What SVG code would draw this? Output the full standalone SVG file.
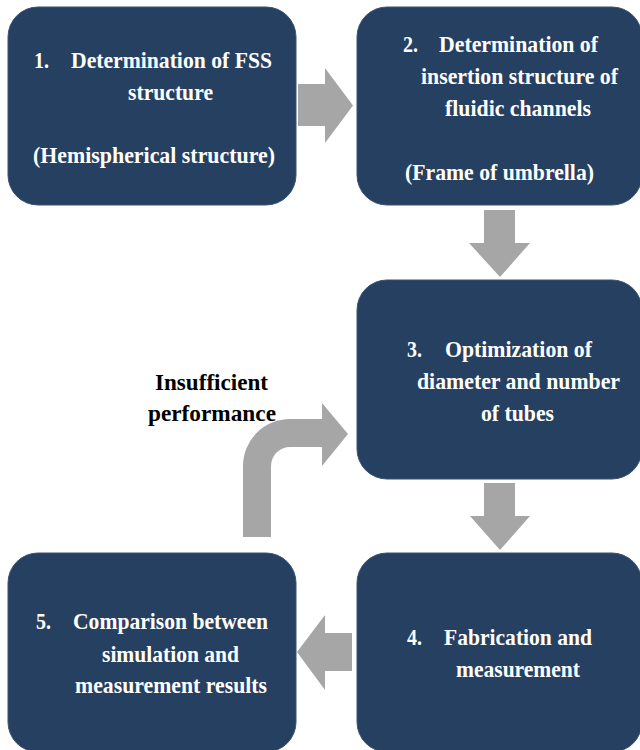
<svg xmlns="http://www.w3.org/2000/svg" width="640" height="750" viewBox="0 0 640 750">
<style>
.box{fill:#264062;stroke:#3a5272;stroke-width:1}
.arr{fill:#A6A6A6}
.t{font-family:"Liberation Serif","Times New Roman",serif;font-weight:bold;font-size:24px;fill:#ffffff}
.lbl{font-family:"Liberation Serif","Times New Roman",serif;font-weight:bold;font-size:24px;fill:#000000}
</style>
<rect width="640" height="750" fill="#ffffff"/>
<g id="connectors">
<polygon class="arr" points="298,84 325,84 325,68 353,105.5 325,143 325,126 298,126"/>
<polygon class="arr" points="484,210 515,210 515,243 530,243 500,277 469,243 484,243"/>
<polygon class="arr" points="484,483 515,483 515,516 530,516 500,550 470,516 484,516"/>
<polygon class="arr" points="352,633 325,633 325,615 297,652 325,690 325,671 352,671"/>
<path class="arr" d="M243,537 L243,466 A47,47 0 0 1 290,419 L322,419 L322,403 L348,434 L322,466 L322,447 L290,447 A19,19 0 0 0 271,466 L271,537 Z"/>
</g>
<g id="node1">
<rect class="box" x="8" y="7" width="288" height="198" rx="30"/>
<text class="t" x="34" y="68" textLength="15" lengthAdjust="spacingAndGlyphs">1.</text>
<text class="t" x="71" y="68" textLength="201" lengthAdjust="spacingAndGlyphs">Determination of FSS</text>
<text class="t" x="128" y="100" textLength="85" lengthAdjust="spacingAndGlyphs">structure</text>
<text class="t" x="33" y="163" textLength="242" lengthAdjust="spacingAndGlyphs">(Hemispherical structure)</text>
</g>
<g id="node2">
<rect class="box" x="357" y="7" width="285" height="198" rx="30"/>
<text class="t" x="403" y="52" textLength="15" lengthAdjust="spacingAndGlyphs">2.</text>
<text class="t" x="439" y="52" textLength="159" lengthAdjust="spacingAndGlyphs">Determination of</text>
<text class="t" x="421" y="84" textLength="197" lengthAdjust="spacingAndGlyphs">insertion structure of</text>
<text class="t" x="445" y="116" textLength="146" lengthAdjust="spacingAndGlyphs">fluidic channels</text>
<text class="t" x="405" y="180" textLength="189" lengthAdjust="spacingAndGlyphs">(Frame of umbrella)</text>
</g>
<g id="node3">
<rect class="box" x="357" y="280" width="285" height="199" rx="30"/>
<text class="t" x="407" y="357" textLength="15" lengthAdjust="spacingAndGlyphs">3.</text>
<text class="t" x="445" y="357" textLength="147" lengthAdjust="spacingAndGlyphs">Optimization of</text>
<text class="t" x="417" y="389" textLength="203" lengthAdjust="spacingAndGlyphs">diameter and number</text>
<text class="t" x="481" y="421" textLength="73" lengthAdjust="spacingAndGlyphs">of tubes</text>
</g>
<g id="node4">
<rect class="box" x="357" y="553" width="285" height="199" rx="30"/>
<text class="t" x="407" y="645" textLength="15" lengthAdjust="spacingAndGlyphs">4.</text>
<text class="t" x="444" y="645" textLength="148" lengthAdjust="spacingAndGlyphs">Fabrication and</text>
<text class="t" x="456" y="677" textLength="124" lengthAdjust="spacingAndGlyphs">measurement</text>
</g>
<g id="node5">
<rect class="box" x="8" y="553" width="288" height="199" rx="30"/>
<text class="t" x="36" y="629" textLength="15" lengthAdjust="spacingAndGlyphs">5.</text>
<text class="t" x="73" y="629" textLength="195" lengthAdjust="spacingAndGlyphs">Comparison between</text>
<text class="t" x="102" y="662" textLength="137" lengthAdjust="spacingAndGlyphs">simulation and</text>
<text class="t" x="75" y="693" textLength="192" lengthAdjust="spacingAndGlyphs">measurement results</text>
</g>
<g id="label">
<text class="lbl" x="155" y="390" textLength="113" lengthAdjust="spacingAndGlyphs">Insufficient</text>
<text class="lbl" x="148" y="421" textLength="128" lengthAdjust="spacingAndGlyphs">performance</text>
</g>
</svg>
